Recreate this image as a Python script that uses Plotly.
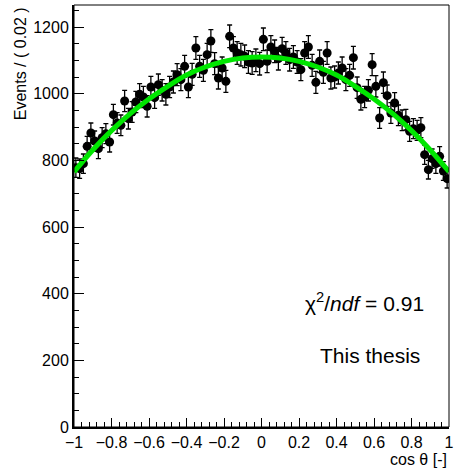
import plotly.graph_objects as go

# ---- data ----
bin_lo = -1.0
bin_width = 0.02
counts = [778, 775, 790, 842, 882, 858, 835, 868, 880, 855,
          937, 912, 905, 978, 925, 945, 975, 998, 990, 962,
          1020, 988, 1027, 1010, 998, 1020, 1035, 1057, 1042, 1082,
          1020, 1058, 1137, 1082, 1070, 1117, 1158, 1090, 1047, 1077,
          1037, 1172, 1137, 1122, 1117, 1112, 1095, 1092, 1100, 1090,
          1163, 1097, 1140, 1127, 1105, 1135, 1122, 1102, 1110, 1095,
          1072, 1122, 1140, 1085, 1034, 1097, 1064, 1122, 1047, 1050,
          1062, 1077, 1042, 1055, 1108, 1018, 983, 990, 1010, 1087,
          1022, 927, 1033, 994, 942, 972, 935, 920, 922, 887,
          895, 890, 898, 817, 772, 805, 790, 812, 768, 745]
errors = [29, 29, 29, 30, 30, 30, 30, 30, 30, 30,
          31, 31, 31, 32, 31, 31, 32, 32, 32, 32,
          32, 32, 32, 32, 32, 32, 33, 33, 33, 33,
          32, 33, 34, 33, 33, 34, 34, 33, 33, 33,
          33, 34, 34, 34, 34, 34, 34, 34, 34, 34,
          34, 34, 34, 34, 34, 34, 34, 34, 34, 34,
          33, 34, 34, 33, 33, 34, 33, 34, 33, 33,
          33, 33, 33, 33, 34, 32, 32, 32, 32, 33,
          32, 31, 32, 32, 31, 31, 31, 31, 31, 30,
          30, 30, 30, 29, 28, 29, 29, 29, 28, 28]
fit_x = [-1.0, -0.9, -0.8, -0.7, -0.6, -0.5, -0.4, -0.3, -0.2, -0.1, 0.0,
         0.1, 0.2, 0.3, 0.4, 0.5, 0.6, 0.7, 0.8, 0.9, 1.0]
fit_y = [765, 831, 889, 940, 984, 1022, 1056, 1080, 1097, 1107, 1110,
         1107, 1097, 1080, 1056, 1022, 984, 940, 889, 831, 766]
x_tickvals = [-1, -0.8, -0.6, -0.4, -0.2, 0, 0.2, 0.4, 0.6, 0.8, 1]
x_ticktext = ["\u22121", "\u22120.8", "\u22120.6", "\u22120.4", "\u22120.2",
              "0", "0.2", "0.4", "0.6", "0.8", "1"]

centers = [bin_lo + bin_width * (i + 0.5) for i in range(len(counts))]

FONT = "Liberation Sans, Arial, sans-serif"

fig = go.Figure()
fig.add_trace(go.Scatter(
    x=centers, y=counts, mode="markers",
    marker=dict(color="black", size=9, symbol="circle"),
    error_y=dict(type="data", array=errors, visible=True,
                 color="black", thickness=1.3, width=2.5),
    showlegend=False, hoverinfo="skip"))
fig.add_trace(go.Scatter(
    x=fit_x, y=fit_y, mode="lines",
    line=dict(color="rgb(0,230,0)", width=5, shape="spline"),
    showlegend=False, hoverinfo="skip"))

fig.update_layout(
    width=457, height=472,
    margin=dict(l=74, r=3, t=5, b=45),
    paper_bgcolor="white", plot_bgcolor="white",
    font=dict(family=FONT, size=16, color="black"),
    xaxis=dict(range=[-1, 1], tickmode="array", tickvals=x_tickvals,
               ticktext=x_ticktext, ticks="inside", ticklen=9, tickwidth=1,
               tickcolor="black", ticklabeloverflow="allow",
               minor=dict(tick0=-1, dtick=0.04, ticks="inside", ticklen=5,
                          tickcolor="black", showgrid=False),
               showline=True, linecolor="black", linewidth=2,
               showgrid=False, zeroline=False,
               tickfont=dict(family=FONT, size=16)),
    yaxis=dict(range=[0, 1266], tickmode="linear", tick0=0, dtick=200,
               ticks="inside", ticklen=10, tickwidth=1, tickcolor="black",
               ticklabeloverflow="allow",
               minor=dict(dtick=50, ticks="inside", ticklen=5,
                          tickcolor="black", showgrid=False),
               showline=True, linecolor="black", linewidth=2,
               showgrid=False, zeroline=False,
               tickfont=dict(family=FONT, size=16)),
)

# frame
fig.add_shape(type="rect", xref="paper", yref="paper", x0=0, y0=0, x1=1, y1=1,
              line=dict(color="black", width=1), layer="above")

# axis titles
fig.add_annotation(text="Events / ( 0.02 )", xref="paper", yref="paper",
                   x=-0.142, y=1.0, xanchor="center", yanchor="top",
                   textangle=-90, showarrow=False,
                   font=dict(family=FONT, size=16))
fig.add_annotation(text="cos \u03b8 [-]", xref="paper", yref="paper",
                   x=1.0, y=-0.078, xanchor="right", yanchor="middle",
                   showarrow=False, font=dict(family=FONT, size=16))

# labels
fig.add_annotation(text="\u03c7<sup>2</sup>/<i>ndf</i> = 0.91", x=0.55, y=375,
                   xref="x", yref="y", showarrow=False,
                   font=dict(family=FONT, size=21))
fig.add_annotation(text="This thesis", x=0.58, y=216, xref="x", yref="y",
                   showarrow=False, font=dict(family=FONT, size=21))

fig.write_html("out.html")
